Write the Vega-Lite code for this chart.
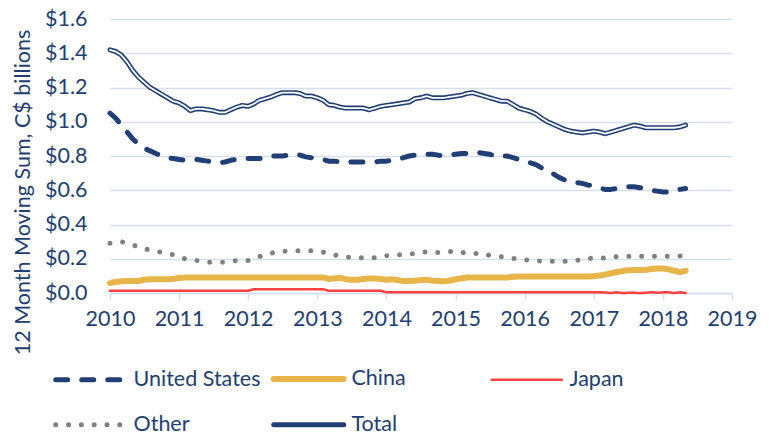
{
  "$schema": "https://vega.github.io/schema/vega-lite/v6.json",
  "autosize": {"type": "none"},
  "width": 622,
  "height": 274,
  "padding": {"left": 110, "top": 19, "right": 43, "bottom": 141},
  "background": "white",
  "config": {
    "font": "Lato",
    "view": {"stroke": null},
    "axis": {"labelFont": "Lato", "titleFont": "Lato", "labelColor": "#233E70", "titleColor": "#233E70"},
    "legend": {"labelFont": "Lato", "labelColor": "#233E70"}
  },
  "data": {
    "values": [
      {"d":"2010-01","us":1.05,"cn":0.058,"jp":0.013,"ot":0.29,"tot":1.42},
      {"d":"2010-02","us":1.02,"cn":0.065,"jp":0.013,"ot":0.295,"tot":1.41},
      {"d":"2010-03","us":0.98,"cn":0.068,"jp":0.013,"ot":0.30,"tot":1.39},
      {"d":"2010-04","us":0.94,"cn":0.07,"jp":0.013,"ot":0.29,"tot":1.35},
      {"d":"2010-05","us":0.90,"cn":0.07,"jp":0.013,"ot":0.28,"tot":1.30},
      {"d":"2010-06","us":0.87,"cn":0.07,"jp":0.013,"ot":0.27,"tot":1.26},
      {"d":"2010-07","us":0.845,"cn":0.078,"jp":0.013,"ot":0.26,"tot":1.23},
      {"d":"2010-08","us":0.83,"cn":0.08,"jp":0.013,"ot":0.25,"tot":1.20},
      {"d":"2010-09","us":0.815,"cn":0.08,"jp":0.013,"ot":0.245,"tot":1.18},
      {"d":"2010-10","us":0.80,"cn":0.08,"jp":0.013,"ot":0.237,"tot":1.16},
      {"d":"2010-11","us":0.79,"cn":0.08,"jp":0.013,"ot":0.23,"tot":1.14},
      {"d":"2010-12","us":0.785,"cn":0.082,"jp":0.013,"ot":0.224,"tot":1.12},
      {"d":"2011-01","us":0.78,"cn":0.088,"jp":0.013,"ot":0.21,"tot":1.11},
      {"d":"2011-02","us":0.775,"cn":0.09,"jp":0.013,"ot":0.20,"tot":1.09},
      {"d":"2011-03","us":0.775,"cn":0.09,"jp":0.013,"ot":0.195,"tot":1.065},
      {"d":"2011-04","us":0.78,"cn":0.09,"jp":0.013,"ot":0.19,"tot":1.075},
      {"d":"2011-05","us":0.775,"cn":0.09,"jp":0.013,"ot":0.185,"tot":1.075},
      {"d":"2011-06","us":0.77,"cn":0.09,"jp":0.013,"ot":0.18,"tot":1.07},
      {"d":"2011-07","us":0.765,"cn":0.09,"jp":0.013,"ot":0.179,"tot":1.065},
      {"d":"2011-08","us":0.76,"cn":0.09,"jp":0.013,"ot":0.179,"tot":1.055},
      {"d":"2011-09","us":0.765,"cn":0.09,"jp":0.013,"ot":0.18,"tot":1.055},
      {"d":"2011-10","us":0.775,"cn":0.09,"jp":0.013,"ot":0.185,"tot":1.07},
      {"d":"2011-11","us":0.78,"cn":0.09,"jp":0.013,"ot":0.189,"tot":1.085},
      {"d":"2011-12","us":0.785,"cn":0.09,"jp":0.013,"ot":0.19,"tot":1.095},
      {"d":"2012-01","us":0.785,"cn":0.09,"jp":0.013,"ot":0.19,"tot":1.09},
      {"d":"2012-02","us":0.785,"cn":0.09,"jp":0.022,"ot":0.20,"tot":1.105},
      {"d":"2012-03","us":0.785,"cn":0.09,"jp":0.022,"ot":0.212,"tot":1.125},
      {"d":"2012-04","us":0.79,"cn":0.09,"jp":0.022,"ot":0.225,"tot":1.135},
      {"d":"2012-05","us":0.80,"cn":0.09,"jp":0.022,"ot":0.233,"tot":1.145},
      {"d":"2012-06","us":0.80,"cn":0.09,"jp":0.022,"ot":0.238,"tot":1.16},
      {"d":"2012-07","us":0.80,"cn":0.09,"jp":0.022,"ot":0.243,"tot":1.17},
      {"d":"2012-08","us":0.805,"cn":0.09,"jp":0.022,"ot":0.246,"tot":1.17},
      {"d":"2012-09","us":0.81,"cn":0.09,"jp":0.022,"ot":0.246,"tot":1.17},
      {"d":"2012-10","us":0.805,"cn":0.09,"jp":0.022,"ot":0.246,"tot":1.165},
      {"d":"2012-11","us":0.795,"cn":0.09,"jp":0.022,"ot":0.246,"tot":1.15},
      {"d":"2012-12","us":0.79,"cn":0.09,"jp":0.022,"ot":0.246,"tot":1.15},
      {"d":"2013-01","us":0.785,"cn":0.09,"jp":0.022,"ot":0.243,"tot":1.14},
      {"d":"2013-02","us":0.78,"cn":0.09,"jp":0.022,"ot":0.238,"tot":1.125},
      {"d":"2013-03","us":0.77,"cn":0.082,"jp":0.013,"ot":0.232,"tot":1.10},
      {"d":"2013-04","us":0.77,"cn":0.085,"jp":0.013,"ot":0.222,"tot":1.095},
      {"d":"2013-05","us":0.765,"cn":0.088,"jp":0.013,"ot":0.215,"tot":1.085},
      {"d":"2013-06","us":0.765,"cn":0.08,"jp":0.013,"ot":0.21,"tot":1.08},
      {"d":"2013-07","us":0.765,"cn":0.077,"jp":0.013,"ot":0.208,"tot":1.08},
      {"d":"2013-08","us":0.765,"cn":0.077,"jp":0.013,"ot":0.206,"tot":1.08},
      {"d":"2013-09","us":0.765,"cn":0.082,"jp":0.013,"ot":0.206,"tot":1.08},
      {"d":"2013-10","us":0.765,"cn":0.085,"jp":0.013,"ot":0.206,"tot":1.07},
      {"d":"2013-11","us":0.765,"cn":0.085,"jp":0.013,"ot":0.206,"tot":1.08},
      {"d":"2013-12","us":0.77,"cn":0.082,"jp":0.013,"ot":0.212,"tot":1.09},
      {"d":"2014-01","us":0.77,"cn":0.077,"jp":0.004,"ot":0.218,"tot":1.095},
      {"d":"2014-02","us":0.775,"cn":0.08,"jp":0.004,"ot":0.22,"tot":1.10},
      {"d":"2014-03","us":0.78,"cn":0.075,"jp":0.004,"ot":0.222,"tot":1.105},
      {"d":"2014-04","us":0.79,"cn":0.07,"jp":0.004,"ot":0.225,"tot":1.11},
      {"d":"2014-05","us":0.80,"cn":0.07,"jp":0.004,"ot":0.228,"tot":1.115},
      {"d":"2014-06","us":0.805,"cn":0.072,"jp":0.004,"ot":0.23,"tot":1.135},
      {"d":"2014-07","us":0.81,"cn":0.075,"jp":0.004,"ot":0.236,"tot":1.14},
      {"d":"2014-08","us":0.81,"cn":0.077,"jp":0.004,"ot":0.24,"tot":1.15},
      {"d":"2014-09","us":0.81,"cn":0.072,"jp":0.004,"ot":0.238,"tot":1.14},
      {"d":"2014-10","us":0.805,"cn":0.07,"jp":0.004,"ot":0.236,"tot":1.14},
      {"d":"2014-11","us":0.80,"cn":0.068,"jp":0.004,"ot":0.24,"tot":1.14},
      {"d":"2014-12","us":0.805,"cn":0.072,"jp":0.004,"ot":0.243,"tot":1.145},
      {"d":"2015-01","us":0.81,"cn":0.08,"jp":0.004,"ot":0.243,"tot":1.15},
      {"d":"2015-02","us":0.815,"cn":0.085,"jp":0.004,"ot":0.238,"tot":1.155},
      {"d":"2015-03","us":0.815,"cn":0.09,"jp":0.004,"ot":0.231,"tot":1.165},
      {"d":"2015-04","us":0.82,"cn":0.09,"jp":0.004,"ot":0.231,"tot":1.17},
      {"d":"2015-05","us":0.82,"cn":0.09,"jp":0.004,"ot":0.231,"tot":1.16},
      {"d":"2015-06","us":0.815,"cn":0.09,"jp":0.004,"ot":0.226,"tot":1.15},
      {"d":"2015-07","us":0.81,"cn":0.09,"jp":0.004,"ot":0.22,"tot":1.14},
      {"d":"2015-08","us":0.80,"cn":0.09,"jp":0.004,"ot":0.216,"tot":1.13},
      {"d":"2015-09","us":0.80,"cn":0.09,"jp":0.004,"ot":0.212,"tot":1.12},
      {"d":"2015-10","us":0.80,"cn":0.09,"jp":0.004,"ot":0.208,"tot":1.12},
      {"d":"2015-11","us":0.79,"cn":0.095,"jp":0.004,"ot":0.202,"tot":1.10},
      {"d":"2015-12","us":0.78,"cn":0.096,"jp":0.004,"ot":0.197,"tot":1.08},
      {"d":"2016-01","us":0.77,"cn":0.096,"jp":0.004,"ot":0.194,"tot":1.07},
      {"d":"2016-02","us":0.76,"cn":0.096,"jp":0.004,"ot":0.192,"tot":1.06},
      {"d":"2016-03","us":0.75,"cn":0.096,"jp":0.004,"ot":0.189,"tot":1.045},
      {"d":"2016-04","us":0.73,"cn":0.096,"jp":0.004,"ot":0.186,"tot":1.02},
      {"d":"2016-05","us":0.71,"cn":0.096,"jp":0.004,"ot":0.186,"tot":1.00},
      {"d":"2016-06","us":0.695,"cn":0.096,"jp":0.004,"ot":0.186,"tot":0.985},
      {"d":"2016-07","us":0.675,"cn":0.096,"jp":0.004,"ot":0.186,"tot":0.97},
      {"d":"2016-08","us":0.66,"cn":0.096,"jp":0.004,"ot":0.186,"tot":0.955},
      {"d":"2016-09","us":0.65,"cn":0.096,"jp":0.004,"ot":0.186,"tot":0.945},
      {"d":"2016-10","us":0.645,"cn":0.096,"jp":0.004,"ot":0.19,"tot":0.94},
      {"d":"2016-11","us":0.64,"cn":0.096,"jp":0.004,"ot":0.195,"tot":0.935},
      {"d":"2016-12","us":0.63,"cn":0.096,"jp":0.004,"ot":0.20,"tot":0.94},
      {"d":"2017-01","us":0.625,"cn":0.098,"jp":0.004,"ot":0.205,"tot":0.945},
      {"d":"2017-02","us":0.615,"cn":0.102,"jp":0.004,"ot":0.205,"tot":0.94},
      {"d":"2017-03","us":0.605,"cn":0.107,"jp":0.003,"ot":0.205,"tot":0.93},
      {"d":"2017-04","us":0.605,"cn":0.115,"jp":0.0,"ot":0.208,"tot":0.94},
      {"d":"2017-05","us":0.61,"cn":0.122,"jp":0.004,"ot":0.212,"tot":0.95},
      {"d":"2017-06","us":0.615,"cn":0.128,"jp":0.0,"ot":0.214,"tot":0.96},
      {"d":"2017-07","us":0.62,"cn":0.133,"jp":0.001,"ot":0.214,"tot":0.97},
      {"d":"2017-08","us":0.62,"cn":0.134,"jp":0.001,"ot":0.214,"tot":0.98},
      {"d":"2017-09","us":0.615,"cn":0.134,"jp":0.0,"ot":0.214,"tot":0.975},
      {"d":"2017-10","us":0.61,"cn":0.135,"jp":0.001,"ot":0.214,"tot":0.965},
      {"d":"2017-11","us":0.60,"cn":0.14,"jp":0.005,"ot":0.214,"tot":0.965},
      {"d":"2017-12","us":0.595,"cn":0.143,"jp":0.001,"ot":0.214,"tot":0.965},
      {"d":"2018-01","us":0.59,"cn":0.143,"jp":0.004,"ot":0.214,"tot":0.965},
      {"d":"2018-02","us":0.59,"cn":0.138,"jp":0.004,"ot":0.214,"tot":0.965},
      {"d":"2018-03","us":0.595,"cn":0.13,"jp":0.0,"ot":0.214,"tot":0.965},
      {"d":"2018-04","us":0.605,"cn":0.122,"jp":0.004,"ot":0.216,"tot":0.97},
      {"d":"2018-05","us":0.61,"cn":0.13,"jp":0.0,"ot":0.22,"tot":0.98}
    ]
  },
  "transform": [
    {"fold": ["us", "cn", "jp", "ot", "tot"], "as": ["key", "value"]},
    {"lookup": "key", "from": {"data": {"values": [
      {"key": "us", "series": "United States"},
      {"key": "cn", "series": "China"},
      {"key": "jp", "series": "Japan"},
      {"key": "ot", "series": "Other"},
      {"key": "tot", "series": "Total"}
    ]}, "key": "key", "fields": ["series"]}}
  ],
  "encoding": {
    "x": {
      "field": "d", "type": "temporal",
      "scale": {"domain": [{"year": 2010, "month": 1, "date": 1}, {"year": 2019, "month": 1, "date": 1}]},
      "axis": {
        "title": null,
        "values": [
          {"year": 2010, "month": 1, "date": 1}, {"year": 2011, "month": 1, "date": 1},
          {"year": 2012, "month": 1, "date": 1}, {"year": 2013, "month": 1, "date": 1},
          {"year": 2014, "month": 1, "date": 1}, {"year": 2015, "month": 1, "date": 1},
          {"year": 2016, "month": 1, "date": 1}, {"year": 2017, "month": 1, "date": 1},
          {"year": 2018, "month": 1, "date": 1}, {"year": 2019, "month": 1, "date": 1}
        ],
        "format": "%Y",
        "grid": false,
        "domainColor": "#D6DFF0",
        "domainWidth": 1.5,
        "tickColor": "#D6DFF0",
        "tickWidth": 1.5,
        "tickSize": 7,
        "labelFontSize": 21.5,
        "labelPadding": 8,
        "labelFlush": false
      }
    },
    "y": {
      "field": "value", "type": "quantitative",
      "scale": {"domain": [0, 1.6], "nice": false},
      "axis": {
        "title": "12 Month Moving Sum, C$ billions",
        "titleFontSize": 21.5,
        "titleFontWeight": "normal",
        "titleY": 173,
        "titlePadding": 10,
        "values": [0, 0.2, 0.4, 0.6, 0.8, 1.0, 1.2, 1.4, 1.6],
        "format": "$.1f",
        "domain": false,
        "ticks": false,
        "gridColor": "#D6DFF0",
        "gridWidth": 1.5,
        "labelFontSize": 21.5,
        "labelPadding": 23
      }
    }
  },
  "layer": [
    {
      "mark": {"type": "line", "strokeCap": "round", "strokeJoin": "round"},
      "encoding": {
        "color": {
          "field": "series", "type": "nominal",
          "scale": {
            "domain": ["United States", "China", "Japan", "Other", "Total"],
            "range": ["#213F75", "#E8B54B", "#FF4040", "#808080", "#213F75"]
          },
          "legend": {
            "title": null,
            "orient": "none",
            "legendX": -30,
            "legendY": 349,
            "direction": "horizontal",
            "columns": 3,
            "gridAlign": "all",
            "columnPadding": 0,
            "rowPadding": 22,
            "symbolType": "stroke",
            "symbolSize": 4900,
            "labelFontSize": 21.5,
            "labelOffset": 32,
            "labelLimit": 300,
            "encode": {
              "symbols": {
                "update": {
                  "strokeCap": {"value": "round"},
                  "strokeWidth": {"signal": "datum.value === 'Japan' ? 2.5 : (datum.value === 'China' ? 6 : 5)"}
                }
              }
            }
          }
        },
        "strokeDash": {
          "field": "series", "type": "nominal",
          "scale": {
            "domain": ["United States", "China", "Japan", "Other", "Total"],
            "range": [[12, 14], [1, 0], [1, 0], [0.01, 12.8], [1, 0]]
          },
          "legend": null
        },
        "strokeWidth": {
          "condition": [
            {"test": "datum.series === 'Japan'", "value": 2.5},
            {"test": "datum.series === 'China'", "value": 6}
          ],
          "value": 5
        }
      }
    },
    {
      "transform": [{"filter": "datum.series === 'Total'"}],
      "mark": {"type": "line", "color": "#FFFFFF", "strokeWidth": 1.8, "strokeCap": "round", "strokeJoin": "round"},
      "encoding": {}
    }
  ]
}
